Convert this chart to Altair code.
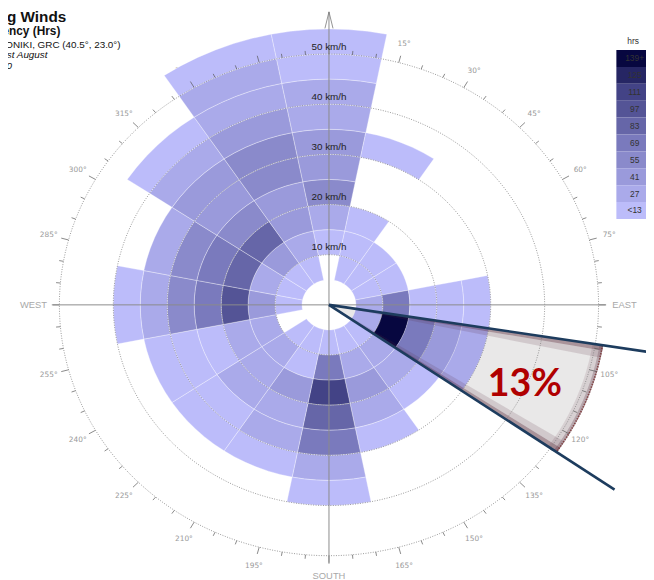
import math
import altair as alt
import pandas as pd

alt.data_transformers.disable_max_rows()

# ---------------- data ----------------
sectors = ["N", "NNE", "NE", "ENE", "E", "ESE", "SE", "SSE",
           "S", "SSW", "SW", "WSW", "W", "WNW", "NW", "NNW"]
sector_centers = [0, 22.5, 45, 67.5, 90, 112.5, 135, 157.5,
                  180, 202.5, 225, 247.5, 270, 292.5, 315, 337.5]
speed_edges = [5, 10, 15, 20, 25, 30, 35, 40, 45, 50, 55]  # km/h

# colour class of every speed bin (0 = none, 1 = "<13" ... 10 = "139+")
lv_N   = [0, 1, 2, 4, 3, 3, 2, 2, 1, 1]
lv_NNE = [1, 1, 1, 0, 0, 1, 0, 0, 0, 0]
lv_NE  = [1, 1, 0, 0, 0, 0, 0, 0, 0, 0]
lv_ENE = [1, 1, 0, 0, 0, 0, 0, 0, 0, 0]
lv_E   = [2, 5, 1, 1, 1, 0, 0, 0, 0, 0]
lv_ESE = [2, 10, 5, 3, 2, 0, 0, 0, 0, 0]
lv_SE  = [1, 2, 2, 1, 0, 0, 0, 0, 0, 0]
lv_SSE = [1, 2, 3, 2, 1, 0, 0, 0, 0, 0]
lv_S   = [1, 5, 8, 6, 5, 2, 1, 0, 0, 0]
lv_SSW = [1, 1, 3, 2, 2, 1, 0, 0, 0, 0]
lv_SW  = [1, 2, 2, 2, 1, 1, 0, 0, 0, 0]
lv_WSW = [0, 2, 2, 1, 1, 1, 0, 0, 0, 0]
lv_W   = [1, 3, 7, 5, 4, 2, 1, 0, 0, 0]
lv_WNW = [1, 2, 6, 5, 4, 2, 0, 0, 0, 0]
lv_NW  = [1, 3, 6, 4, 3, 3, 2, 1, 0, 0]
lv_NNW = [1, 2, 3, 3, 4, 4, 3, 2, 2, 1]
levels = [lv_N, lv_NNE, lv_NE, lv_ENE, lv_E, lv_ESE, lv_SE, lv_SSE,
          lv_S, lv_SSW, lv_SW, lv_WSW, lv_W, lv_WNW, lv_NW, lv_NNW]

class_labels = ["<13", "27", "41", "55", "69", "83", "97", "111", "125", "139+"]
class_colors = ["#bcbcfa", "#aaaaea", "#9a9adb", "#8a8acb", "#7a7abd",
                "#6666a8", "#545496", "#434386", "#262664", "#070740"]
legend_title = "hrs"

highlight = "ESE"
highlight_text = "13%"
highlight_span = [99.0, 124.8]
highlight_outer = 51.5
highlight_line_len = 64.5
highlight_label_pos = [39.7, 113.8]   # radius, bearing

ring_speeds = [10, 20, 30, 40, 50]
ring_labels = ["10 km/h", "20 km/h", "30 km/h", "40 km/h", "50 km/h"]
degree_marks = [a for a in range(15, 360, 15) if a not in (90, 180, 270)]
cardinal_angles = [90, 180, 270]
cardinal_names = ["EAST", "SOUTH", "WEST"]
cardinal_radius = [54.8, 54.0, 54.8]

title_lines = ["Prevailing Winds", "Wind Frequency (Hrs)",
               "Location: THESSALONIKI, GRC (40.5\u00b0, 23.0\u00b0)",
               "Date: 1st June - 31st August", "Time: 00:00 - 24:00",
               "\u00a9 Weather Tool"]

# ---------------- layout ----------------
W, H = 646, 572
CX, CY = 325.0, 297.0          # centre of the rose in px
KX, KY = 5.46, 5.08            # px per km/h
XMIN = -CX / KX
XMAX = XMIN + W / KX
YMAX = CY / KY
YMIN = YMAX - H / KY
LEG_X0, LEG_X1, LEG_TOP, LEG_ROW = 616, 662, 39, 17.1

xs = alt.Scale(domain=[XMIN, XMAX], nice=False, zero=False)
ys = alt.Scale(domain=[YMIN, YMAX], nice=False, zero=False)


def pol(r, a):
    t = math.radians(a)
    return r * math.sin(t), r * math.cos(t)


def sector_rows(key, a0, a1, r0, r1, steps=6, **extra):
    pts = []
    for k in range(steps + 1):
        pts.append(pol(r1, a0 + (a1 - a0) * k / steps))
    for k in range(steps + 1):
        pts.append(pol(r0, a1 - (a1 - a0) * k / steps))
    return [dict(key=key, i=i, x=x, y=y, **extra) for i, (x, y) in enumerate(pts)]


cell_rows, hl_rows = [], []
for name, c, lv in zip(sectors, sector_centers, levels):
    for b, L in enumerate(lv):
        if L == 0:
            continue
        r0, r1 = speed_edges[b], speed_edges[b + 1]
        if name == highlight:
            hl_rows += sector_rows(f"{name}{b}", highlight_span[0], highlight_span[1],
                                   r0, r1, cls=class_labels[L - 1])
        else:
            cell_rows += sector_rows(f"{name}{b}", c - 11.25, c + 11.25, r0, r1,
                                     cls=class_labels[L - 1])

X = alt.X("x:Q", scale=xs, axis=None)
Y = alt.Y("y:Q", scale=ys, axis=None)

fill_enc = alt.Fill(
    "cls:N",
    scale=alt.Scale(domain=class_labels[::-1], range=class_colors[::-1]),
    legend=None,
)

# compass labels sit underneath the cells
deg_rows = []
for a in degree_marks:
    x, y = pol(53.8, a)
    deg_rows.append(dict(x=x, y=y, t=f"{a}\u00b0"))
deg_text = alt.Chart(pd.DataFrame(deg_rows)).mark_text(
    font="DejaVu Sans", fontSize=7.5, color="#9a9a9a"
).encode(x=X, y=Y, text="t:N")

card_rows = []
for a, n, rr in zip(cardinal_angles, cardinal_names, cardinal_radius):
    x, y = pol(rr, a)
    card_rows.append(dict(x=x, y=y, t=n))
card_text = alt.Chart(pd.DataFrame(card_rows)).mark_text(
    font="Liberation Sans", fontSize=9.5, color="#a8a8a8"
).encode(x=X, y=Y, text="t:N")

cells = alt.Chart(pd.DataFrame(cell_rows)).mark_line(
    interpolate="linear-closed", stroke="white", strokeWidth=0.6, strokeOpacity=0.55
).encode(x=X, y=Y, fill=fill_enc, detail="key:N", order="i:Q")

# highlighted (exploded) sector
body = alt.Chart(pd.DataFrame(sector_rows("body", highlight_span[0], highlight_span[1],
                                          0, highlight_outer, steps=14))).mark_line(
    interpolate="linear-closed", fill="#e9e8e8", strokeWidth=0
).encode(x=X, y=Y, order="i:Q")

hl_cells = alt.Chart(pd.DataFrame(hl_rows)).mark_line(
    interpolate="linear-closed", stroke="white", strokeWidth=0.5, strokeOpacity=0.4
).encode(x=X, y=Y, fill=alt.Fill("cls:N", legend=None), detail="key:N", order="i:Q")

a0, a1 = highlight_span
shade_specs = [
    (a0, a0 + 1.2, 0, highlight_outer, 0.45),
    (a0 + 1.2, a0 + 2.8, 0, highlight_outer, 0.16),
    (a1 - 1.2, a1, 0, highlight_outer, 0.45),
    (a1 - 2.8, a1 - 1.2, 0, highlight_outer, 0.16),
    (a0, a1, highlight_outer - 0.7, highlight_outer, 0.35),
    (a0, a1, highlight_outer - 2.0, highlight_outer - 0.7, 0.12),
]
shade_rows = []
for k, (s0, s1, r0, r1, op) in enumerate(shade_specs):
    shade_rows += sector_rows(f"s{k}", s0, s1, r0, r1, steps=12, op=op)
shade = alt.Chart(pd.DataFrame(shade_rows)).mark_line(
    interpolate="linear-closed", fill="#5a2c3c", strokeWidth=0
).encode(x=X, y=Y, detail="key:N", order="i:Q",
         opacity=alt.Opacity("op:Q", scale=None))

fringe_rows = []
for k in range(31):
    x, y = pol(highlight_outer - 0.15, a0 + (a1 - a0) * k / 30)
    fringe_rows.append(dict(i=k, x=x, y=y))
fringe = alt.Chart(pd.DataFrame(fringe_rows)).mark_line(
    stroke="#7a3434", strokeWidth=1.6, strokeDash=[1.5, 1.2], strokeOpacity=0.85
).encode(x=X, y=Y, order="i:Q")

# rings
ring_rows = []
for r in ring_speeds:
    for k in range(0, 361, 2):
        x, y = pol(r, k)
        ring_rows.append(dict(key=r, i=k, x=x, y=y))
rings = alt.Chart(pd.DataFrame(ring_rows)).mark_line(
    stroke="#808080", strokeWidth=0.8, strokeDash=[1, 1.5]
).encode(x=X, y=Y, detail="key:N", order="i:Q")

# ticks
tick_rows = []
for a in range(0, 360, 5):
    r1 = 51.4 if a % 15 == 0 else 50.8
    x0, y0 = pol(50, a)
    x1, y1 = pol(r1, a)
    tick_rows.append(dict(x=x0, y=y0, x2=x1, y2=y1))
ticks = alt.Chart(pd.DataFrame(tick_rows)).mark_rule(stroke="#555", strokeWidth=0.7).encode(
    x=X, y=Y, x2="x2:Q", y2="y2:Q")

axes_df = pd.DataFrame([dict(x=0, y=-51.6, x2=0, y2=58.4),
                        dict(x=-51.2, y=0, x2=51.3, y2=0)])
axes_lines = alt.Chart(axes_df).mark_rule(stroke="#8a8a8a", strokeWidth=1).encode(
    x=X, y=Y, x2="x2:Q", y2="y2:Q")

arrow_df = pd.DataFrame([dict(i=0, x=-0.75, y=55.1), dict(i=1, x=0, y=58.4),
                         dict(i=2, x=0.75, y=55.1)])
arrow = alt.Chart(arrow_df).mark_line(stroke="#777", strokeWidth=0.8).encode(
    x=X, y=Y, order="i:Q")

spd_df = pd.DataFrame(dict(x=[0] * len(ring_speeds),
                           y=[r + 1.45 for r in ring_speeds], t=ring_labels))
spd_text = alt.Chart(spd_df).mark_text(
    font="Liberation Sans", fontSize=10, color="#222"
).encode(x=X, y=Y, text="t:N")

nav_rows = []
for a in highlight_span:
    x, y = pol(highlight_line_len, a)
    nav_rows.append(dict(x=0, y=0, x2=x, y2=y))
navy = alt.Chart(pd.DataFrame(nav_rows)).mark_rule(
    stroke="#1d3c5e", strokeWidth=2.6).encode(x=X, y=Y, x2="x2:Q", y2="y2:Q")

lx, ly = pol(*highlight_label_pos)
pct = alt.Chart(pd.DataFrame([dict(x=lx, y=ly, t=highlight_text)])).mark_text(
    font="Lato", fontWeight="bold", fontSize=38, color="#b00000"
).encode(x=X, y=Y, text="t:N")

# colour key (top right)
leg_df = pd.DataFrame({"cls": class_labels[::-1]})
leg_scale = alt.Scale(domain=class_labels[::-1],
                      range=[LEG_TOP, LEG_TOP + LEG_ROW * len(class_labels)],
                      paddingInner=0, paddingOuter=0)
leg_rects = alt.Chart(leg_df).mark_rect(strokeWidth=0).encode(
    x=alt.value(LEG_X0), x2=alt.value(LEG_X1),
    y=alt.Y("cls:N", scale=leg_scale, axis=None),
    fill=alt.Fill("cls:N", legend=None))
leg_labels = alt.Chart(leg_df).mark_text(
    font="Liberation Sans", fontSize=8.5, color="#333"
).encode(x=alt.value((LEG_X0 + LEG_X1) / 2 - 4.5),
         y=alt.Y("cls:N", scale=leg_scale, axis=None), text="cls:N")

one = pd.DataFrame({"a": [0]})
title_specs = [
    (title_lines[0], 59, 10.5, 15.5, "bold", "normal"),
    (title_lines[1], 53, 23.5, 12, "bold", "normal"),
    (title_lines[2], 114, 36.5, 10, "normal", "normal"),
    (title_lines[3], 40, 47.5, 10, "normal", "italic"),
    (title_lines[4], 4, 58.0, 10, "normal", "italic"),
    (title_lines[5], -5, 68.0, 10, "normal", "italic"),
]
titles = [
    alt.Chart(one).mark_text(align="right", baseline="alphabetic", font="Liberation Sans",
                             fontSize=fs, fontWeight=fw, fontStyle=fst, color="#111")
    .encode(x=alt.value(px), y=alt.value(py), text=alt.value(t))
    for t, px, py, fs, fw, fst in title_specs
]
leg_title = alt.Chart(one).mark_text(
    align="center", baseline="middle", font="Liberation Sans", fontSize=8.5, color="#333"
).encode(x=alt.value(633), y=alt.value(30), text=alt.value(legend_title))

chart = alt.layer(
    deg_text, card_text, cells, body, hl_cells, shade, fringe, rings, ticks, axes_lines,
    arrow, spd_text, navy, pct, leg_rects, leg_labels, *titles, leg_title
).resolve_scale(
    x="independent", y="independent"
).properties(
    width=W, height=H, padding=0, autosize="none", background="white"
).configure_view(stroke=None)

chart.save("out.html", embed_options={"renderer": "svg", "actions": False})
